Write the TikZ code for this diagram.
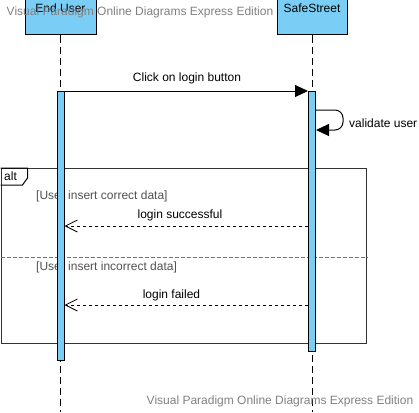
\documentclass[tikz,border=0pt]{standalone}
\usepackage{fontspec}
\setmainfont{Liberation Sans}
\usetikzlibrary{arrows.meta}
\definecolor{barblue}{RGB}{122,206,245}
\definecolor{markgray}{RGB}{128,128,128}
\definecolor{guardgray}{RGB}{80,80,80}

\begin{document}
\begin{tikzpicture}[x=1pt,y=-1pt,
  every node/.style={font=\fontsize{12}{14}\selectfont, inner sep=0pt},
  headbox/.style={draw, fill=barblue, minimum width=71pt, minimum height=40pt, line width=1pt},
  actbar/.style={draw, fill=barblue, minimum width=7pt, line width=1pt, anchor=north},
  lifeline/.style={dash pattern=on 7pt off 4pt, line width=0.8pt},
  call/.style={-{Triangle[length=13pt,width=12pt]}, line width=1pt},
  reply/.style={-{Straight Barb[length=12pt,width=12pt]}, dash pattern=on 3pt off 3pt, line width=0.8pt},
  guard/.style={anchor=west, text=guardgray},
  watermark/.style={text=markgray}]
  \useasboundingbox (0,0) rectangle (419,412);
  % heads and lifelines
  \node[headbox] (user) at (60.5,15) {};
  \node (userlbl) at (60.5,8) {End User};
  \node[headbox, minimum width=70pt] (safe) at (312,15) {};
  \node (safelbl) at (312,8) {SafeStreet};
  \coordinate (userend) at (60.5,412);
  \coordinate (safeend) at (312,412);
  \draw[lifeline] (user.south) -- (userend);
  \draw[lifeline] (safe.south) -- (safeend);
  % alt frame
  \node[draw=black!80, line width=1pt, minimum width=365.5pt, minimum height=175pt, anchor=north west] (altframe) at (0.5,168) {};
  \draw[line width=1pt] (altframe.north west) -- ++(27,0) -- ++(0,10) -- ++(-5,7) -- ++(-22,0);
  \node[anchor=west] (altlbl) at (4,176) {alt};
  \draw[dash pattern=on 4pt off 2pt, line width=1pt, black!55] (altframe.west |- 0,257) -- (altframe.east |- 0,257);
  \node[guard] (okguard) at (36,196) {[User insert correct data]};
  \node[guard] (koguard) at (36,267) {[User insert incorrect data]};
  % activations
  \node[actbar, minimum height=269pt] (useract) at (60.5,91) {};
  \node[actbar, minimum height=260pt] (safeact) at (312,91) {};
  % messages
  \draw[call] (useract.north east) -- (safeact.north west);
  \node (clicklbl) at (187,78) {Click on login button};
  \coordinate (selfout) at (safeact.east |- 0,110);
  \coordinate (selfin) at (safeact.east |- 0,130);
  \draw[call, rounded corners=8pt] (selfout) -- (343,110) -- (343,130) -- (selfin);
  \node[anchor=west] (validlbl) at (349,123) {validate user};
  \draw[reply] (safeact.west |- 0,226) -- (useract.east |- 0,226);
  \node (oklbl) at (180,215) {login successful};
  \draw[reply] (safeact.west |- 0,305) -- (useract.east |- 0,305);
  \node (kolbl) at (171.5,295) {login failed};
  % watermarks
  \node[watermark] (wmtop) at (140,12) {Visual Paradigm Online Diagrams Express Edition};
  \node[watermark] (wmbot) at (280,401) {Visual Paradigm Online Diagrams Express Edition};
\end{tikzpicture}
\end{document}
